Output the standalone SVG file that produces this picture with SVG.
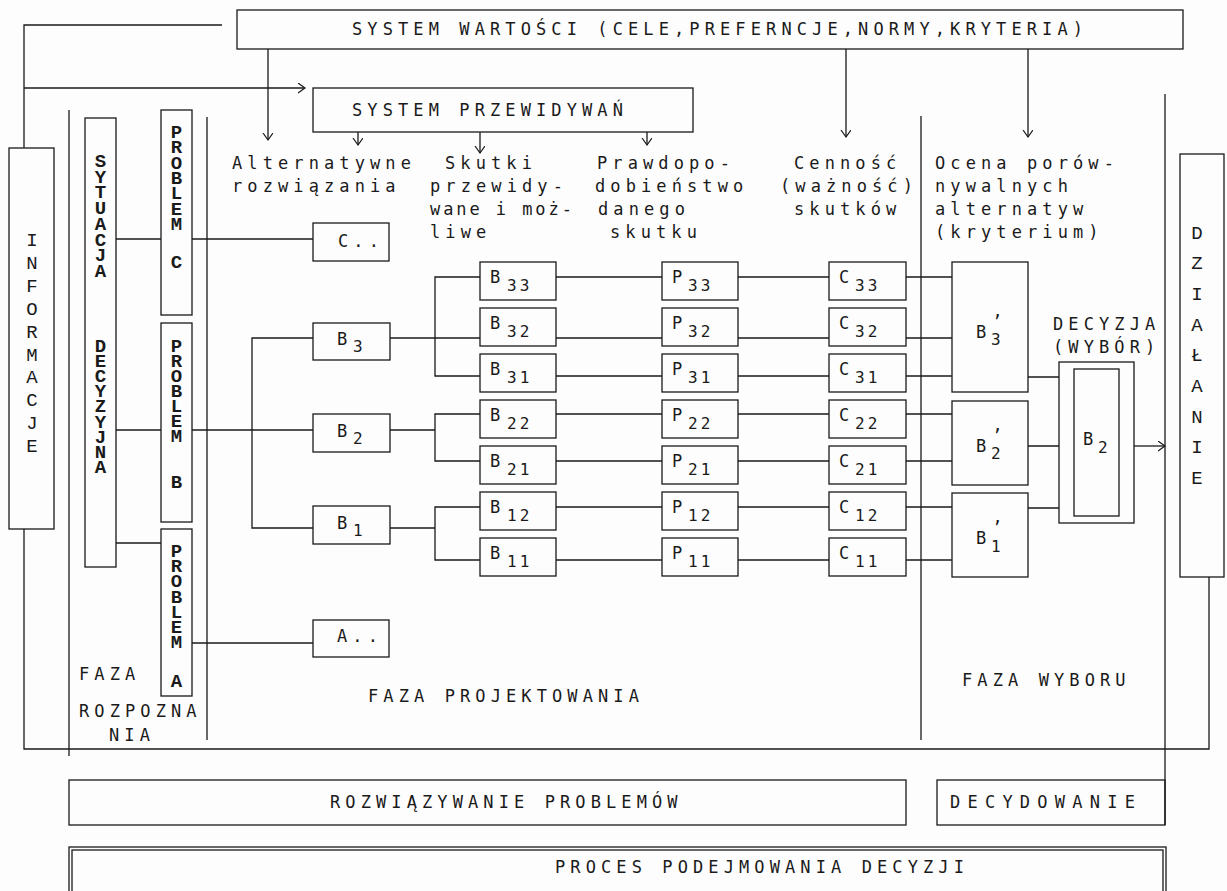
<svg xmlns="http://www.w3.org/2000/svg" width="1227" height="891" viewBox="0 0 1227 891">
<defs>
<marker id="arr" markerWidth="10" markerHeight="12" refX="7" refY="5" orient="auto" markerUnits="userSpaceOnUse">
<path d="M0,0 L7,5 L0,10" fill="none" stroke="#1a1a1a" stroke-width="1.2"/>
</marker>
<style>
.ln{stroke:#1a1a1a;stroke-width:1.3;fill:none}
.bx{fill:none;stroke:#1a1a1a;stroke-width:1.3}
.t{font-family:"DejaVu Sans Mono",monospace;font-size:17px;letter-spacing:5.1px;fill:#1a1a1a}
.vt{font-family:"Liberation Mono",monospace;font-weight:bold;font-size:19px;fill:#1a1a1a;writing-mode:vertical-rl;text-orientation:upright}
.vi{font-family:"Liberation Mono",monospace;font-size:19px;text-anchor:middle;fill:#1a1a1a}
.m{font-family:"DejaVu Sans Mono",monospace;font-size:17px;fill:#1a1a1a}
.s{font-family:"DejaVu Sans Mono",monospace;font-size:16px;letter-spacing:3px;fill:#1a1a1a}
</style>
</defs>
<rect x="0" y="0" width="1227" height="891" fill="#fdfdfd"/>

<g id="phase-lines">
<line class="ln" x1="69" y1="110" x2="69" y2="756"/>
<line class="ln" x1="207" y1="117" x2="207" y2="740"/>
<line class="ln" x1="921" y1="116" x2="921" y2="740"/>
<line class="ln" x1="1165" y1="94" x2="1165" y2="825"/>
</g>

<g id="connectors">
<polyline class="ln" points="222,25 24,25 24,148"/>
<line class="ln" x1="24" y1="88" x2="305" y2="88" marker-end="url(#arr)"/>
<line class="ln" x1="268" y1="49" x2="268" y2="140" marker-end="url(#arr)"/>
<line class="ln" x1="358" y1="132" x2="358" y2="145" marker-end="url(#arr)"/>
<line class="ln" x1="480" y1="132" x2="480" y2="153" marker-end="url(#arr)"/>
<line class="ln" x1="647" y1="132" x2="647" y2="145" marker-end="url(#arr)"/>
<line class="ln" x1="846" y1="49" x2="846" y2="137" marker-end="url(#arr)"/>
<line class="ln" x1="1028" y1="49" x2="1028" y2="137" marker-end="url(#arr)"/>
<line class="ln" x1="116" y1="239" x2="161" y2="239"/>
<line class="ln" x1="116" y1="430" x2="161" y2="430"/>
<line class="ln" x1="116" y1="543" x2="161" y2="543"/>
<line class="ln" x1="192" y1="239" x2="313" y2="239"/>
<line class="ln" x1="192" y1="430" x2="313" y2="430"/>
<line class="ln" x1="192" y1="643" x2="313" y2="643"/>
<polyline class="ln" points="313,338 252,338 252,528 313,528"/>
<line class="ln" x1="390" y1="338" x2="480" y2="338"/>
<polyline class="ln" points="480,277 435,277 435,376 480,376"/>
<line class="ln" x1="390" y1="430" x2="435" y2="430"/>
<polyline class="ln" points="480,414 435,414 435,461 480,461"/>
<line class="ln" x1="390" y1="528" x2="435" y2="528"/>
<polyline class="ln" points="480,507 435,507 435,560 480,560"/>
<path class="ln" d="M556,277H662M556,338H662M556,376H662M556,414H662M556,461H662M556,507H662M556,560H662"/>
<path class="ln" d="M738,277H829M738,338H829M738,376H829M738,414H829M738,461H829M738,507H829M738,560H829"/>
<path class="ln" d="M906,277H952M906,338H952M906,376H952M906,414H952M906,461H952M906,507H952M906,560H952"/>
<path class="ln" d="M1028,377H1059M1028,446H1059M1028,508H1059"/>
<line class="ln" x1="1134" y1="446" x2="1165" y2="446" marker-end="url(#arr)"/>
<polyline class="ln" points="24,529 24,749 1209,749 1209,577"/>
</g>

<g id="system-wartosci">
<rect class="bx" x="237" y="10" width="946" height="39"/>
<text class="t" x="352" y="35">SYSTEM  WARTOŚCI (CELE,PREFERNCJE,NORMY,KRYTERIA)</text>
</g>
<g id="system-przewidywan">
<rect class="bx" x="313" y="88" width="380" height="44"/>
<text class="t" x="352" y="116">SYSTEM PRZEWIDYWAŃ</text>
</g>

<g id="headers">
<text class="t" x="232" y="169">Alternatywne</text>
<text class="t" x="232" y="192">rozwiązania</text>
<text class="t" x="445" y="169">Skutki</text>
<text class="t" x="430" y="192">przewidy-</text>
<text class="t" x="430" y="215" textLength="147" lengthAdjust="spacing">wane i moż-</text>
<text class="t" x="430" y="238">liwe</text>
<text class="t" x="597" y="169">Prawdopo-</text>
<text class="t" x="595" y="192">dobieństwo</text>
<text class="t" x="598" y="215">danego</text>
<text class="t" x="610" y="238">skutku</text>
<text class="t" x="794" y="169">Cenność</text>
<text class="t" x="780" y="192">(ważność)</text>
<text class="t" x="794" y="215">skutków</text>
<text class="t" x="935" y="169">Ocena porów-</text>
<text class="t" x="935" y="192">nywalnych</text>
<text class="t" x="935" y="215">alternatyw</text>
<text class="t" x="935" y="238">(kryterium)</text>
</g>

<g id="informacje">
<rect class="bx" x="9" y="148" width="45" height="381"/>
<text class="vi"><tspan x="32" y="246">I</tspan><tspan x="32" y="269">N</tspan><tspan x="32" y="292">F</tspan><tspan x="32" y="315">O</tspan><tspan x="32" y="338">R</tspan><tspan x="32" y="361">M</tspan><tspan x="32" y="383">A</tspan><tspan x="32" y="406">C</tspan><tspan x="32" y="429">J</tspan><tspan x="32" y="452">E</tspan></text>
</g>

<g id="sytuacja-decyzyjna">
<rect class="bx" x="85" y="118" width="31" height="449"/>
<text class="vt" x="100.5" y="151" style="letter-spacing:-6.3px">SYTUACJA</text>
<text class="vt" x="100.5" y="336" style="letter-spacing:-6.9px">DECYZYJNA</text>
</g>

<g id="problem-c">
<rect class="bx" x="161" y="110" width="31" height="205"/>
<text class="vt" x="176.5" y="122" style="letter-spacing:-6.7px">PROBLEM</text>
<text class="vt" x="176.5" y="252">C</text>
</g>
<g id="problem-b">
<rect class="bx" x="161" y="323" width="31" height="199"/>
<text class="vt" x="176.5" y="336" style="letter-spacing:-7px">PROBLEM</text>
<text class="vt" x="176.5" y="472">B</text>
</g>
<g id="problem-a">
<rect class="bx" x="161" y="529" width="31" height="167"/>
<text class="vt" x="176.5" y="541" style="letter-spacing:-6.8px">PROBLEM</text>
<text class="vt" x="176.5" y="671">A</text>
</g>

<g id="alt-c"><rect class="bx" x="313" y="223" width="76" height="38"/><text class="t" x="338" y="247">C..</text></g>
<g id="alt-a"><rect class="bx" x="313" y="620" width="76" height="37"/><text class="t" x="337" y="642">A..</text></g>
<g id="alt-b3"><rect class="bx" x="313" y="323" width="77" height="37"/><text class="m" x="337" y="345">B</text><text class="s" x="353" y="352">3</text></g>
<g id="alt-b2"><rect class="bx" x="313" y="414" width="77" height="38"/><text class="m" x="337" y="437">B</text><text class="s" x="353" y="444">2</text></g>
<g id="alt-b1"><rect class="bx" x="313" y="506" width="77" height="38"/><text class="m" x="337" y="529">B</text><text class="s" x="353" y="536">1</text></g>

<g id="b33"><rect class="bx" x="480" y="262" width="76" height="38"/><text class="m" x="490" y="283">B</text><text class="s" x="507" y="291">33</text></g>
<g id="b32"><rect class="bx" x="480" y="308" width="76" height="38"/><text class="m" x="490" y="329">B</text><text class="s" x="507" y="337">32</text></g>
<g id="b31"><rect class="bx" x="480" y="354" width="76" height="38"/><text class="m" x="490" y="375">B</text><text class="s" x="507" y="383">31</text></g>
<g id="b22"><rect class="bx" x="480" y="400" width="76" height="38"/><text class="m" x="490" y="421">B</text><text class="s" x="507" y="429">22</text></g>
<g id="b21"><rect class="bx" x="480" y="446" width="76" height="38"/><text class="m" x="490" y="467">B</text><text class="s" x="507" y="475">21</text></g>
<g id="b12"><rect class="bx" x="480" y="492" width="76" height="38"/><text class="m" x="490" y="513">B</text><text class="s" x="507" y="521">12</text></g>
<g id="b11"><rect class="bx" x="480" y="538" width="76" height="38"/><text class="m" x="490" y="559">B</text><text class="s" x="507" y="567">11</text></g>

<g id="p33"><rect class="bx" x="662" y="262" width="76" height="38"/><text class="m" x="672" y="283">P</text><text class="s" x="688" y="291">33</text></g>
<g id="p32"><rect class="bx" x="662" y="308" width="76" height="38"/><text class="m" x="672" y="329">P</text><text class="s" x="688" y="337">32</text></g>
<g id="p31"><rect class="bx" x="662" y="354" width="76" height="38"/><text class="m" x="672" y="375">P</text><text class="s" x="688" y="383">31</text></g>
<g id="p22"><rect class="bx" x="662" y="400" width="76" height="38"/><text class="m" x="672" y="421">P</text><text class="s" x="688" y="429">22</text></g>
<g id="p21"><rect class="bx" x="662" y="446" width="76" height="38"/><text class="m" x="672" y="467">P</text><text class="s" x="688" y="475">21</text></g>
<g id="p12"><rect class="bx" x="662" y="492" width="76" height="38"/><text class="m" x="672" y="513">P</text><text class="s" x="688" y="521">12</text></g>
<g id="p11"><rect class="bx" x="662" y="538" width="76" height="38"/><text class="m" x="672" y="559">P</text><text class="s" x="688" y="567">11</text></g>

<g id="c33"><rect class="bx" x="829" y="262" width="77" height="38"/><text class="m" x="839" y="283">C</text><text class="s" x="855" y="291">33</text></g>
<g id="c32"><rect class="bx" x="829" y="308" width="77" height="38"/><text class="m" x="839" y="329">C</text><text class="s" x="855" y="337">32</text></g>
<g id="c31"><rect class="bx" x="829" y="354" width="77" height="38"/><text class="m" x="839" y="375">C</text><text class="s" x="855" y="383">31</text></g>
<g id="c22"><rect class="bx" x="829" y="400" width="77" height="38"/><text class="m" x="839" y="421">C</text><text class="s" x="855" y="429">22</text></g>
<g id="c21"><rect class="bx" x="829" y="446" width="77" height="38"/><text class="m" x="839" y="467">C</text><text class="s" x="855" y="475">21</text></g>
<g id="c12"><rect class="bx" x="829" y="492" width="77" height="38"/><text class="m" x="839" y="513">C</text><text class="s" x="855" y="521">12</text></g>
<g id="c11"><rect class="bx" x="829" y="538" width="77" height="38"/><text class="m" x="839" y="559">C</text><text class="s" x="855" y="567">11</text></g>

<g id="bp3"><rect class="bx" x="952" y="262" width="76" height="130"/><text class="m" x="976" y="338">B</text><text class="m" x="992" y="328">’</text><text class="s" x="991" y="345">3</text></g>
<g id="bp2"><rect class="bx" x="952" y="401" width="76" height="84"/><text class="m" x="976" y="452">B</text><text class="m" x="992" y="442">’</text><text class="s" x="991" y="459">2</text></g>
<g id="bp1"><rect class="bx" x="952" y="493" width="76" height="84"/><text class="m" x="976" y="544">B</text><text class="m" x="992" y="534">’</text><text class="s" x="991" y="552">1</text></g>

<g id="decyzja">
<text class="t" x="1053" y="330">DECYZJA</text>
<text class="t" x="1053" y="353">(WYBÓR)</text>
<rect class="bx" x="1059" y="362" width="75" height="161"/>
<rect class="bx" x="1074" y="369" width="45" height="147"/>
<text class="m" x="1083" y="445">B</text><text class="s" x="1098" y="453">2</text>
</g>

<g id="dzialanie">
<rect class="bx" x="1180" y="154" width="44" height="423"/>
<text class="vi"><tspan x="1197" y="239">D</tspan><tspan x="1197" y="269">Z</tspan><tspan x="1197" y="300">I</tspan><tspan x="1197" y="331">A</tspan><tspan x="1197" y="361">Ł</tspan><tspan x="1197" y="392">A</tspan><tspan x="1197" y="423">N</tspan><tspan x="1197" y="453">I</tspan><tspan x="1197" y="484">E</tspan></text>
</g>

<g id="phase-labels">
<text class="t" x="79" y="680">FAZA</text>
<text class="t" x="79" y="717">ROZPOZNA</text>
<text class="t" x="109" y="741">NIA</text>
<text class="t" x="368" y="702">FAZA PROJEKTOWANIA</text>
<text class="t" x="962" y="686">FAZA WYBORU</text>
</g>

<g id="rozwiazywanie">
<rect class="bx" x="69" y="780" width="837" height="45"/>
<text class="t" x="330" y="808">ROZWIĄZYWANIE PROBLEMÓW</text>
</g>
<g id="decydowanie">
<rect class="bx" x="937" y="780" width="228" height="45"/>
<text class="t" x="950" y="808" textLength="190" lengthAdjust="spacing">DECYDOWANIE</text>
</g>
<g id="proces">
<rect class="bx" x="69" y="847" width="1097" height="60"/>
<rect class="bx" x="72" y="850" width="1091" height="60"/>
<text class="t" x="555" y="873">PROCES PODEJMOWANIA DECYZJI</text>
</g>
</svg>
